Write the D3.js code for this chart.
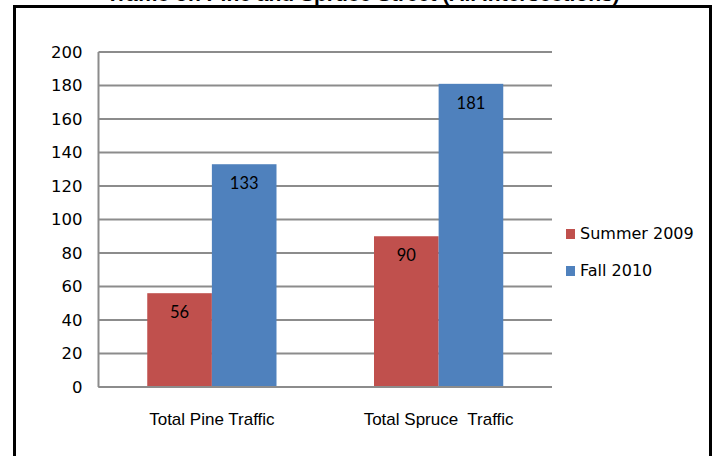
<!DOCTYPE html>
<html>
<head>
<meta charset="utf-8">
<script src="https://cdn.jsdelivr.net/npm/d3@7"></script>
<style>
  html, body { margin: 0; padding: 0; background: #fff; }
  svg { display: block; }
</style>
</head>
<body>
<svg id="chart" width="715" height="456"></svg>
<script>
const titleText = "Traffic on Pine and Spruce Street (All Intersections)";
const categories = ["Total Pine Traffic", "Total Spruce  Traffic"];
const seriesNames = ["Summer 2009", "Fall 2010"];
const summer2009 = [56, 90];
const fall2010 = [133, 181];
const yTicks = [0, 20, 40, 60, 80, 100, 120, 140, 160, 180, 200];
const colors = ["#C0504D", "#4F81BD"];

const seriesValues = [summer2009, fall2010];
const svg = d3.select("#chart");

// chart frame
svg.append("rect")
  .attr("x", 14.5).attr("y", 6.5)
  .attr("width", 696).attr("height", 470)
  .attr("fill", "#fff").attr("stroke", "#000").attr("stroke-width", 3);

// title (cut off at top, as in the reference)
svg.append("text")
  .attr("x", 363).attr("y", 0.5)
  .attr("text-anchor", "middle")
  .attr("font-family", "Liberation Sans, Arial, sans-serif")
  .attr("font-weight", "bold")
  .attr("font-size", 21)
  .attr("fill", "#000")
  .text(titleText);

const plot = { left: 98.5, right: 552, top: 52, bottom: 387 };

const y = d3.scaleLinear().domain([0, 200]).range([plot.bottom, plot.top]);
const x0 = d3.scaleBand().domain(categories).range([plot.left, plot.right])
  .paddingInner(0.43).paddingOuter(0.215);
const x1 = d3.scaleBand().domain(seriesNames).range([0, x0.bandwidth()]);

// gridlines
svg.append("g").selectAll("line").data(yTicks).join("line")
  .attr("x1", plot.left).attr("x2", plot.right)
  .attr("y1", d => y(d)).attr("y2", d => y(d))
  .attr("stroke", "#8c8c8c").attr("stroke-width", 2);

// y axis line
svg.append("line")
  .attr("x1", plot.left).attr("x2", plot.left)
  .attr("y1", plot.top).attr("y2", plot.bottom)
  .attr("stroke", "#8c8c8c").attr("stroke-width", 2);

// y labels
const yAxis = d3.axisLeft(y).tickValues(yTicks).tickSize(0).tickPadding(16);
const gy = svg.append("g").attr("transform", `translate(${plot.left},0)`).call(yAxis);
gy.select(".domain").remove();
gy.selectAll("text")
  .attr("font-family", "DejaVu Sans, sans-serif")
  .attr("font-size", 16.5)
  .attr("fill", "#000");

// bars
const groups = svg.append("g").selectAll("g").data(categories).join("g")
  .attr("transform", c => `translate(${x0(c)},0)`);

groups.selectAll("rect")
  .data((c, ci) => seriesNames.map((s, si) => ({ s, si, v: seriesValues[si][ci] })))
  .join("rect")
  .attr("x", d => x1(d.s))
  .attr("width", x1.bandwidth())
  .attr("y", d => y(d.v))
  .attr("height", d => y(0) - y(d.v))
  .attr("fill", d => colors[d.si]);

// data labels
groups.selectAll("text.val")
  .data((c, ci) => seriesNames.map((s, si) => ({ s, si, v: seriesValues[si][ci] })))
  .join("text")
  .attr("class", "val")
  .attr("x", d => x1(d.s) + x1.bandwidth() / 2)
  .attr("y", d => y(d.v) + 25)
  .attr("text-anchor", "middle")
  .attr("font-family", "Lato, sans-serif")
  .attr("font-size", 16.5)
  .attr("fill", "#000")
  .text(d => d.v);

// redraw baseline over bars
svg.append("line")
  .attr("x1", plot.left).attr("x2", plot.right)
  .attr("y1", y(0)).attr("y2", y(0))
  .attr("stroke", "#8c8c8c").attr("stroke-width", 2);

// category labels
svg.append("g").selectAll("text").data(categories).join("text")
  .attr("x", c => x0(c) + x0.bandwidth() / 2)
  .attr("y", 425)
  .attr("text-anchor", "middle")
  .attr("font-family", "Liberation Sans, Arial, sans-serif")
  .attr("font-size", 17)
  .attr("fill", "#000")
  .attr("xml:space", "preserve")
  .style("white-space", "pre")
  .text(c => c);

// legend
const legend = svg.append("g").selectAll("g").data(seriesNames).join("g")
  .attr("transform", (d, i) => `translate(566,${229 + i * 37})`);
legend.append("rect")
  .attr("width", 9).attr("height", 10)
  .attr("fill", (d, i) => colors[i]);
legend.append("text")
  .attr("x", 14).attr("y", 10)
  .attr("font-family", "DejaVu Sans, sans-serif")
  .attr("font-size", 16)
  .attr("fill", "#000")
  .text(d => d);
</script>
</body>
</html>
